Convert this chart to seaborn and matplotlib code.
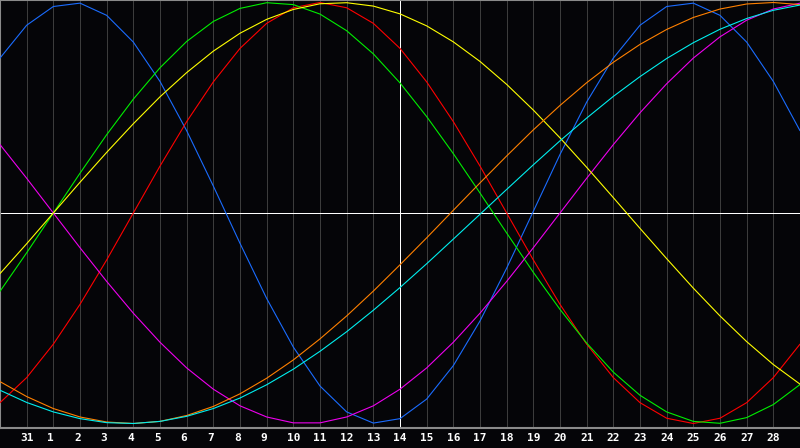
import numpy as np
import pandas as pd
import seaborn as sns
import matplotlib.pyplot as plt

# Day index along the chart: 0 = Jan 30 ... 30 = Mar 1
day_index = list(range(31))
day_labels = ["31"] + [str(d) for d in range(1, 29)]  # labels on gridlines 1..29
today = 15  # Feb 14 marker

# Cycle values, one per day (-1 .. 1)
physical = [0.736, 0.892, 0.981, 0.997, 0.939, 0.812, 0.625, 0.391, 0.128, -0.144, -0.406, -0.637, -0.822, -0.945, -0.998, -0.977, -0.884, -0.725, -0.513, -0.262, 0.008, 0.278, 0.527, 0.736, 0.892, 0.981, 0.997, 0.939, 0.812, 0.625, 0.391]
emotional = [-0.901, -0.782, -0.623, -0.434, -0.223, 0.000, 0.223, 0.434, 0.623, 0.782, 0.901, 0.975, 1.000, 0.975, 0.901, 0.782, 0.623, 0.434, 0.223, 0.000, -0.223, -0.434, -0.623, -0.782, -0.901, -0.975, -1.000, -0.975, -0.901, -0.782, -0.623]
intellectual = [-0.372, -0.189, 0.000, 0.189, 0.372, 0.541, 0.690, 0.815, 0.910, 0.972, 0.999, 0.990, 0.945, 0.866, 0.756, 0.618, 0.458, 0.282, 0.095, -0.095, -0.282, -0.458, -0.618, -0.756, -0.866, -0.945, -0.990, -0.999, -0.972, -0.910, -0.815]
intuitive = [0.325, 0.165, -0.000, -0.165, -0.325, -0.476, -0.614, -0.736, -0.837, -0.916, -0.969, -0.997, -0.997, -0.969, -0.916, -0.837, -0.736, -0.614, -0.476, -0.325, -0.165, -0.000, 0.165, 0.325, 0.476, 0.614, 0.736, 0.837, 0.916, 0.969, 0.997]
aesthetic = [-0.288, -0.146, 0.000, 0.146, 0.288, 0.424, 0.552, 0.667, 0.769, 0.854, 0.920, 0.967, 0.994, 0.999, 0.983, 0.946, 0.889, 0.813, 0.720, 0.611, 0.489, 0.357, 0.217, 0.073, -0.073, -0.217, -0.357, -0.489, -0.611, -0.720, -0.813]
awareness = [-0.801, -0.872, -0.929, -0.969, -0.993, -1.000, -0.990, -0.962, -0.919, -0.859, -0.785, -0.698, -0.598, -0.489, -0.371, -0.246, -0.118, 0.013, 0.143, 0.271, 0.395, 0.511, 0.619, 0.716, 0.801, 0.872, 0.929, 0.969, 0.993, 1.000, 0.990]
spiritual = [-0.842, -0.900, -0.945, -0.977, -0.996, -1.000, -0.990, -0.966, -0.929, -0.879, -0.816, -0.742, -0.657, -0.564, -0.462, -0.354, -0.241, -0.124, -0.006, 0.112, 0.229, 0.343, 0.451, 0.554, 0.648, 0.734, 0.809, 0.873, 0.924, 0.963, 0.988]

colors = {
    "physical": "#1a6cff",
    "emotional": "#ff0000",
    "intellectual": "#00ee00",
    "intuitive": "#ee00ee",
    "aesthetic": "#ffff00",
    "awareness": "#ff8000",
    "spiritual": "#00eeee",
}

df = pd.DataFrame({
    "day": day_index,
    "physical": physical,
    "emotional": emotional,
    "intellectual": intellectual,
    "intuitive": intuitive,
    "aesthetic": aesthetic,
    "awareness": awareness,
    "spiritual": spiritual,
})
long = df.melt(id_vars="day", var_name="cycle", value_name="value")

bg = "#050508"
sns.set_style("dark")
fig = plt.figure(figsize=(8, 4.48), dpi=100, facecolor=bg)
ax = fig.add_axes([0, 20 / 448, 1, 428 / 448])
ax.set_facecolor(bg)

# day gridlines and the centre / today markers
for k in range(1, 30):
    ax.axvline(k, color="#3c3c3c", lw=0.72, antialiased=False, zorder=1)
ax.axhline(0, color="white", lw=0.72, antialiased=False, zorder=2)
ax.axvline(today, color="white", lw=0.72, antialiased=False, zorder=2)

sns.lineplot(data=long, x="day", y="value", hue="cycle", palette=colors,
             linewidth=0.8, legend=False, ax=ax, zorder=3)

ax.set_xlim(0, 30)
ax.set_ylim(-1.0214, 1.0119)
ax.set_xticks([])
ax.set_yticks([])
ax.set_xlabel("")
ax.set_ylabel("")
ax.grid(False)
for side in ["left", "top", "bottom"]:
    ax.spines[side].set_visible(True)
    ax.spines[side].set_color("#8a8a8a")
    ax.spines[side].set_linewidth(1.5)
ax.spines["right"].set_visible(False)

for k, lab in enumerate(day_labels, start=1):
    off = -0.1 if len(lab) == 1 else 0
    ax.text(k + off, -10 / 428, lab, transform=ax.get_xaxis_transform(),
            ha="center", va="center", color="white", fontsize=8,
            fontweight="bold", family="DejaVu Sans Mono")

fig.savefig("out.png", dpi=100, facecolor=bg)
